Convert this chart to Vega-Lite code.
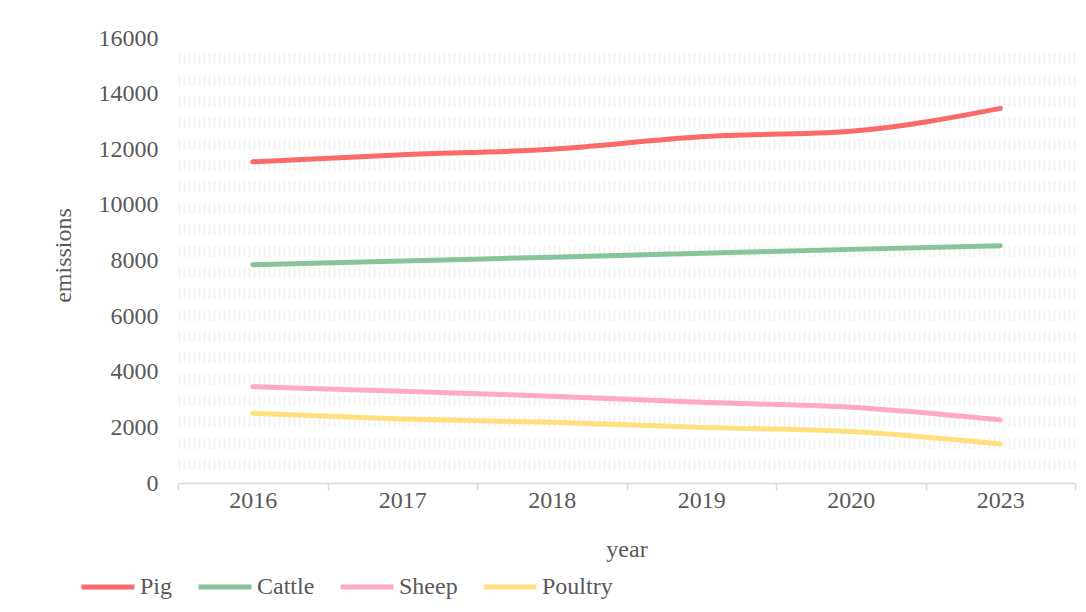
{
  "$schema": "https://vega.github.io/schema/vega-lite/v6.json",
  "width": 897,
  "height": 445,
  "autosize": {"type": "none"},
  "padding": {"left": 178, "top": 38, "right": 11, "bottom": 129},
  "background": "white",
  "config": {
    "font": "Liberation Serif",
    "view": {"stroke": null},
    "axis": {"labelFont": "Liberation Serif", "titleFont": "Liberation Serif", "labelColor": "#595959", "titleColor": "#595959", "titleFontWeight": "normal", "labelFontSize": 24, "titleFontSize": 24},
    "legend": {"labelFont": "Liberation Serif"}
  },
  "data": {
    "values": [
      {"year": "2016", "animal": "Pig", "emissions": 11550},
      {"year": "2017", "animal": "Pig", "emissions": 11800},
      {"year": "2018", "animal": "Pig", "emissions": 12000},
      {"year": "2019", "animal": "Pig", "emissions": 12450},
      {"year": "2020", "animal": "Pig", "emissions": 12650},
      {"year": "2023", "animal": "Pig", "emissions": 13470},
      {"year": "2016", "animal": "Cattle", "emissions": 7850},
      {"year": "2017", "animal": "Cattle", "emissions": 7980},
      {"year": "2018", "animal": "Cattle", "emissions": 8120},
      {"year": "2019", "animal": "Cattle", "emissions": 8260},
      {"year": "2020", "animal": "Cattle", "emissions": 8400},
      {"year": "2023", "animal": "Cattle", "emissions": 8530},
      {"year": "2016", "animal": "Sheep", "emissions": 3460},
      {"year": "2017", "animal": "Sheep", "emissions": 3300},
      {"year": "2018", "animal": "Sheep", "emissions": 3120},
      {"year": "2019", "animal": "Sheep", "emissions": 2900},
      {"year": "2020", "animal": "Sheep", "emissions": 2720},
      {"year": "2023", "animal": "Sheep", "emissions": 2270},
      {"year": "2016", "animal": "Poultry", "emissions": 2510},
      {"year": "2017", "animal": "Poultry", "emissions": 2300},
      {"year": "2018", "animal": "Poultry", "emissions": 2180},
      {"year": "2019", "animal": "Poultry", "emissions": 2000},
      {"year": "2020", "animal": "Poultry", "emissions": 1850},
      {"year": "2023", "animal": "Poultry", "emissions": 1400}
    ]
  },
  "layer": [
    {
      "mark": {"type": "line", "opacity": 0},
      "encoding": {
        "x": {"field": "year", "type": "ordinal", "scale": {"type": "band", "paddingInner": 0, "paddingOuter": 0}},
        "y": {"field": "emissions", "type": "quantitative", "scale": {"domain": [0, 16000], "nice": false},
          "axis": {"orient": "right", "title": null, "labels": false, "ticks": false, "domain": false, "grid": true, "gridColor": "#F3F3F3", "gridWidth": 11, "gridDash": [2, 3], "zindex": 0,
            "values": [15270, 14502, 13734, 12966, 12198, 11430, 10662, 9894, 9126, 8358, 7590, 6822, 6054, 5286, 4518, 3750, 2982, 2214, 1446, 678]}},
        "detail": {"field": "animal"}
      }
    },
    {
      "mark": {"type": "line", "interpolate": "monotone", "strokeWidth": 5, "strokeCap": "round", "strokeJoin": "round"},
      "encoding": {
        "x": {"field": "year", "type": "ordinal", "scale": {"type": "band", "paddingInner": 0, "paddingOuter": 0},
          "axis": {"title": "year", "labelAngle": 0, "bandPosition": 0.5, "tickBand": "extent", "labelOffset": 24, "domainColor": "#D9D9D9", "tickColor": "#D9D9D9", "tickSize": 7, "domainWidth": 1.5, "tickWidth": 1.5, "labelPadding": 10, "titleY": 66, "titleBaseline": "middle"}},
        "y": {"field": "emissions", "type": "quantitative", "scale": {"domain": [0, 16000], "nice": false},
          "axis": {"title": "emissions", "format": "d", "values": [0, 2000, 4000, 6000, 8000, 10000, 12000, 14000, 16000], "grid": false, "domain": false, "ticks": false, "labelPadding": 20, "titleX": -115, "titleY": 217, "titleAngle": 270, "titleAlign": "center", "titleBaseline": "middle"}},
        "color": {"field": "animal", "type": "nominal", "sort": ["Pig", "Cattle", "Sheep", "Poultry"],
          "scale": {"domain": ["Pig", "Cattle", "Sheep", "Poultry"], "range": ["#F96A69", "#86C49A", "#FFA9C6", "#FFE07D"]},
          "legend": {"title": null, "orient": "none", "direction": "horizontal", "legendX": -99, "legendY": 520, "symbolType": "stroke", "symbolSize": 2800, "symbolStrokeWidth": 5, "labelFont": "Liberation Serif", "labelFontSize": 24, "labelColor": "#595959", "labelOffset": 3, "columnPadding": 15}}
      }
    }
  ],
  "resolve": {"axis": {"y": "independent"}}
}
